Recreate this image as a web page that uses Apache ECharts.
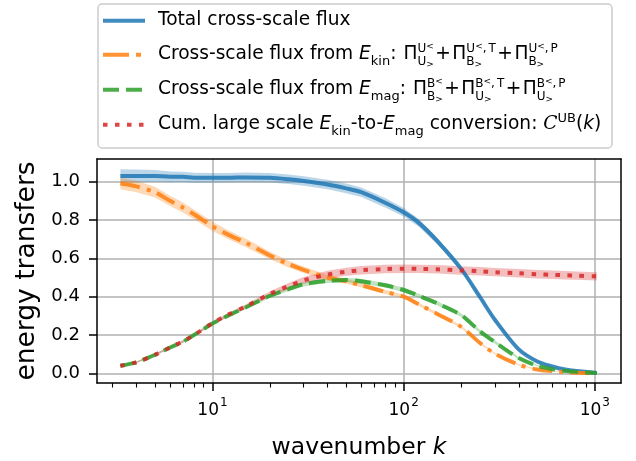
<!DOCTYPE html>
<html>
<head>
<meta charset="utf-8">
<script src="https://cdn.jsdelivr.net/npm/echarts@6/dist/echarts.min.js"></script>
<style>
html, body { margin: 0; padding: 0; background: #fff; }
#main { width: 636px; height: 461px; }
</style>
</head>
<body>
<div id="main"></div>
<script>
// wavenumbers
var ks = [3.3, 4, 5, 6, 7, 8, 10, 12, 15, 20, 25, 30, 40, 50, 60, 80, 100, 120, 150, 200, 250, 300, 400, 500, 600, 700, 800, 1024];

// curves
var totalFlux = [1.03, 1.03, 1.03, 1.025, 1.025, 1.02, 1.02, 1.02, 1.022, 1.02, 1.012, 1.003, 0.985, 0.965, 0.945, 0.89, 0.84, 0.785, 0.69, 0.545, 0.40, 0.28, 0.125, 0.062, 0.036, 0.02, 0.012, 0.002];
var kinFlux = [0.99, 0.975, 0.945, 0.90, 0.865, 0.83, 0.767, 0.725, 0.68, 0.615, 0.57, 0.54, 0.50, 0.48, 0.46, 0.425, 0.40, 0.36, 0.31, 0.243, 0.16, 0.103, 0.045, 0.02, 0.012, 0.007, 0.004, 0.001];
var magFlux = [0.04, 0.058, 0.097, 0.135, 0.165, 0.2, 0.26, 0.30, 0.345, 0.405, 0.44, 0.465, 0.483, 0.487, 0.48, 0.46, 0.435, 0.405, 0.365, 0.304, 0.22, 0.163, 0.08, 0.04, 0.022, 0.013, 0.008, 0.002];
var conversion = [0.04, 0.058, 0.097, 0.135, 0.167, 0.2, 0.262, 0.305, 0.35, 0.415, 0.455, 0.485, 0.515, 0.53, 0.538, 0.544, 0.546, 0.545, 0.543, 0.537, 0.533, 0.528, 0.522, 0.517, 0.514, 0.512, 0.51, 0.506];

// half widths of the shaded bands
var totalErr = [0.035, 0.033, 0.03, 0.028, 0.027, 0.026, 0.025, 0.025, 0.025, 0.025, 0.025, 0.025, 0.025, 0.025, 0.025, 0.025, 0.022, 0.02, 0.017, 0.012, 0.01, 0.008, 0.006, 0.004, 0.003, 0.002, 0.002, 0.001];
var kinErr = [0.03, 0.03, 0.028, 0.027, 0.026, 0.025, 0.024, 0.023, 0.022, 0.02, 0.018, 0.016, 0.014, 0.013, 0.012, 0.011, 0.01, 0.009, 0.008, 0.007, 0.006, 0.005, 0.004, 0.003, 0.002, 0.002, 0.001, 0.001];
var magErr = [0.004, 0.004, 0.005, 0.005, 0.006, 0.006, 0.007, 0.008, 0.009, 0.01, 0.01, 0.01, 0.011, 0.012, 0.012, 0.012, 0.012, 0.011, 0.011, 0.01, 0.009, 0.008, 0.006, 0.004, 0.003, 0.002, 0.002, 0.001];
var convErr = [0.004, 0.004, 0.005, 0.005, 0.006, 0.006, 0.008, 0.009, 0.01, 0.013, 0.016, 0.018, 0.02, 0.021, 0.022, 0.022, 0.022, 0.022, 0.022, 0.022, 0.022, 0.022, 0.022, 0.022, 0.022, 0.022, 0.022, 0.022];

// ticks
var xMajor = [10, 100, 1000];
var xMinor = [3, 4, 5, 6, 7, 8, 9, 20, 30, 40, 50, 60, 70, 80, 90, 200, 300, 400, 500, 600, 700, 800, 900];
var yTicks = [0, 0.2, 0.4, 0.6, 0.8, 1.0];

var FONT = 'DejaVu Sans';

var dom = document.getElementById('main');
var chart = echarts.init(dom, null, { renderer: 'canvas' });

function pairs(arr) {
	return ks.map(function (k, i) { return [k, arr[i]]; });
}

function band(mid, err, color) {
	return {
		type: 'custom',
		silent: true,
		z: 1,
		data: [[ks[0], mid[0]]],
		renderItem: function (params, api) {
			var pts = [];
			for (var i = 0; i < ks.length; i++) pts.push(api.coord([ks[i], mid[i] + err[i]]));
			for (var j = ks.length - 1; j >= 0; j--) pts.push(api.coord([ks[j], mid[j] - err[j]]));
			return { type: 'polygon', shape: { points: pts }, style: { fill: color } };
		}
	};
}

function line(name, arr, color, dash) {
	return {
		name: name,
		type: 'line',
		z: 3,
		data: pairs(arr),
		showSymbol: false,
		smooth: 0.3,
		lineStyle: { width: 4, color: color, type: dash, cap: 'butt' }
	};
}

// legend with math, laid out by hand
var mctx = document.createElement('canvas').getContext('2d');
var BASE = 18.6;
function fontOf(p) {
	return (p.it ? 'italic ' : '') + p.size + 'px "' + (p.serif ? 'DejaVu Serif' : FONT) + '"';
}
function N(t) { return { t: t, size: BASE }; }
function It(t) { return { t: t, size: BASE, it: true }; }
function Lo(t, dy, size) { return { t: t, size: size || 13, dy: dy || 5 }; }
function Hi(t, dy, size) { return { t: t, size: size || 13, dy: dy || -8 }; }
function Gap(w) { return { gap: w }; }
function Stack(top, bottom) { return { stack: [top, bottom] }; }

function place(p, x, base, out) {
	if (p.gap) return x + p.gap;
	mctx.font = fontOf(p);
	var w = mctx.measureText(p.t).width;
	out.push({
		type: 'text',
		z: 101,
		style: {
			text: p.t, x: x, y: base + (p.dy || 0) - 0.346 * p.size,
			fontSize: p.size, fontStyle: p.it ? 'italic' : 'normal',
			fontFamily: p.serif ? 'DejaVu Serif' : FONT,
			fill: '#000', align: 'left', verticalAlign: 'middle'
		}
	});
	return x + w;
}
function layoutRow(pieces, x, base, out) {
	pieces.forEach(function (p) {
		if (p.stack) {
			var w = 0;
			p.stack.forEach(function (row) {
				var xx = x;
				row.forEach(function (q) { xx = place(q, xx, base, out); });
				w = Math.max(w, xx - x);
			});
			x += w;
			return;
		}
		x = place(p, x, base, out);
	});
}

function pi(a, b, extra) {
	var top = [Hi(a, -8, 12), Hi('<', -11, 9)];
	if (extra) top.push(Hi(',', -8, 12), Gap(2), Hi(extra, -8, 12));
	return [N('Π'), Stack(top, [Lo(b, 5, 12), Lo('>', 7, 9)])];
}
var plus = [Gap(1.5), N('+'), Gap(1.5)];

var legendRows = [
	[N('Total cross-scale flux')],
	[N('Cross-scale flux from '), It('E'), Lo('kin'), N(':'), Gap(7)]
		.concat(pi('U', 'U'), plus, pi('U', 'B', 'T'), plus, pi('U', 'B', 'P')),
	[N('Cross-scale flux from '), It('E'), Lo('mag'), N(':'), Gap(7)]
		.concat(pi('B', 'B'), plus, pi('B', 'U', 'T'), plus, pi('B', 'U', 'P')),
	[N('Cum. large scale '), It('E'), Lo('kin'), N('-to-'), It('E'), Lo('mag'), N(' conversion: '),
		{ t: 'C', size: BASE, it: true, serif: true }, Hi('UB'), N('('), It('k'), N(')')]
];
var legendColors = ['rgba(31,119,180,0.85)', 'rgba(255,127,14,0.85)', 'rgba(44,160,44,0.85)', 'rgba(214,39,40,0.85)'];
var legendDash = ['solid', [26, 7, 5, 7], [16, 7], [4.5, 7.5]];
var baselines = [26.7, 60.7, 95.7, 130.7];

var graphics = [{
	type: 'rect', z: 100,
	shape: { x: 98, y: 4, width: 514, height: 144, r: 4 },
	style: { fill: 'rgba(255,255,255,0.8)', stroke: '#cccccc', lineWidth: 1.5 }
}];
legendRows.forEach(function (row, i) {
	graphics.push({
		type: 'line', z: 101,
		shape: { x1: 103, y1: baselines[i] - 6, x2: 145, y2: baselines[i] - 6 },
		style: { stroke: legendColors[i], lineWidth: 4, lineDash: legendDash[i] === 'solid' ? null : legendDash[i], lineCap: 'butt' }
	});
	layoutRow(row, 158, baselines[i], graphics);
});

var xMin = 2.49, xMax = 1370, yMin = -0.05, yMax = 1.118;

var option = {
	animation: false,
	backgroundColor: '#fff',
	grid: { left: 97, top: 159, width: 524, height: 226 },
	xAxis: [
		{
			type: 'log', logBase: 10, min: xMin, max: xMax,
			name: 'wavenumber {i|k}', nameLocation: 'middle', nameGap: 53,
			nameTextStyle: { fontSize: 23.5, fontFamily: FONT, color: '#000', rich: { i: { fontSize: 23.5, fontFamily: FONT, fontStyle: 'italic', color: '#000' } } },
			axisLine: { onZero: false, lineStyle: { color: '#000', width: 1.5 } },
			axisTick: { customValues: xMajor, length: 8, lineStyle: { color: '#000', width: 1.5 } },
			axisLabel: {
				customValues: xMajor, color: '#000', margin: 14,
				formatter: function (v) { return '{b|10}{s|' + Math.round(Math.log10(v)) + '}'; },
				rich: {
					b: { fontSize: 17, fontFamily: FONT, color: '#000', lineHeight: 22, verticalAlign: 'bottom' },
					s: { fontSize: 12, fontFamily: FONT, color: '#000', lineHeight: 12, verticalAlign: 'top', padding: [0, 0, 0, 1] }
				}
			},
			splitLine: { show: true, lineStyle: { color: '#b0b0b0', width: 1.5 } }
		},
		{
			type: 'log', logBase: 10, min: xMin, max: xMax, position: 'bottom',
			axisLine: { show: false, onZero: false },
			axisTick: { customValues: xMinor, length: 4.5, lineStyle: { color: '#000', width: 1.1 } },
			axisLabel: { show: false },
			splitLine: { show: false }
		},
		{
			type: 'log', logBase: 10, min: xMin, max: xMax, position: 'top',
			axisLine: { onZero: false, lineStyle: { color: '#000', width: 1.5 } },
			axisTick: { show: false }, axisLabel: { show: false }, splitLine: { show: false }
		}
	],
	yAxis: [
		{
			type: 'value', min: yMin, max: yMax,
			name: 'energy transfers', nameLocation: 'middle', nameGap: 56,
			nameTextStyle: { fontSize: 26.5, fontFamily: FONT, color: '#000' },
			axisLine: { show: true, onZero: false, lineStyle: { color: '#000', width: 1.5 } },
			axisTick: { show: true, customValues: yTicks, length: 8, lineStyle: { color: '#000', width: 1.5 } },
			axisLabel: {
				customValues: yTicks, fontSize: 18, fontFamily: FONT, color: '#000', margin: 17,
				formatter: function (v) { return v.toFixed(1); }
			},
			splitLine: { show: true, lineStyle: { color: '#b0b0b0', width: 1.5 } }
		},
		{
			type: 'value', min: yMin, max: yMax, position: 'right',
			axisLine: { show: true, onZero: false, lineStyle: { color: '#000', width: 1.5 } },
			axisTick: { show: false }, axisLabel: { show: false }, splitLine: { show: false }
		}
	],
	graphic: { elements: graphics },
	series: [
		band(totalFlux, totalErr, 'rgba(31,119,180,0.3)'),
		band(kinFlux, kinErr, 'rgba(255,127,14,0.3)'),
		band(magFlux, magErr, 'rgba(44,160,44,0.3)'),
		band(conversion, convErr, 'rgba(214,39,40,0.3)'),
		line('Total cross-scale flux', totalFlux, legendColors[0], 'solid'),
		line('Cross-scale flux from E_kin', kinFlux, legendColors[1], [20, 7, 4, 7]),
		line('Cross-scale flux from E_mag', magFlux, legendColors[2], [16, 7]),
		line('Cum. large scale conversion', conversion, legendColors[3], [4.5, 7.5])
	]
};

chart.setOption(option);
</script>
</body>
</html>
